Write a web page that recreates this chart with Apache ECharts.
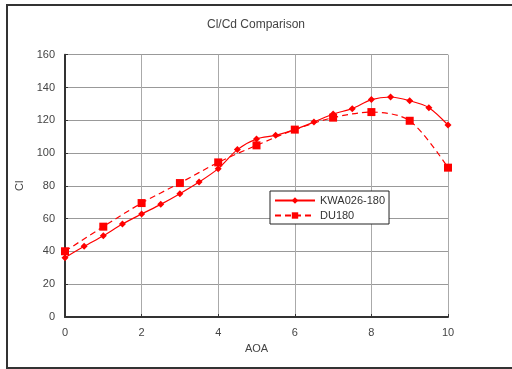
<!DOCTYPE html>
<html><head><meta charset="utf-8">
<script src="https://cdn.jsdelivr.net/npm/echarts@6/dist/echarts.min.js"></script>
<style>html,body{margin:0;padding:0;background:#fff}#c{width:512px;height:369px}</style>
</head><body><div id="c"></div>
<script>
const kwaX = [0,0.5,1,1.5,2,2.5,3,3.5,4,4.5,5,5.5,6,6.5,7,7.5,8,8.5,9,9.5,10];
const kwaY = [36.2,43.1,49.6,56.7,62.8,68.7,75.2,82.3,90.5,102.1,108.6,110.8,114.3,118.9,123.8,127.1,132.6,134.2,131.9,127.7,117.1];
const duX = [0,1,2,3,4,5,6,7,8,9,10];
const duY = [40.1,55.1,69.5,81.7,94.3,104.7,114.3,121.6,125.0,119.7,91.1];
const seriesNames = ['KWA026-180','DU180'];

const font = 'Liberation Sans, Arial, sans-serif';
const chart = echarts.init(document.getElementById('c'));
chart.setOption({
  animation:false,
  backgroundColor:'#fff',
  title:{text:'Cl/Cd Comparison',left:'center',top:14,textStyle:{fontSize:12,fontWeight:'normal',color:'#444',fontFamily:font}},
  graphic:[{type:'rect',shape:{x:7,y:5,width:520,height:363},style:{fill:'none',stroke:'#333',lineWidth:2},z:-1}],
  grid:{left:65,right:64,top:54.7,bottom:52},
  legend:{orient:'vertical',left:270,top:191,itemWidth:40,itemHeight:8,itemGap:4,padding:[4,4,3,4],
    backgroundColor:'#fff',borderColor:'#222',borderWidth:1,
    textStyle:{fontSize:11,color:'#333',fontFamily:font},data:seriesNames},
  xAxis:{type:'value',min:0,max:10,interval:2,name:'AOA',nameLocation:'middle',nameGap:26,
    nameTextStyle:{fontSize:11,color:'#444',fontFamily:font},
    axisLine:{onZero:false,lineStyle:{color:'#333',width:2}},
    axisTick:{show:true,inside:true,length:3,lineStyle:{color:'#333'}},
    axisLabel:{fontSize:11,color:'#444',margin:10,fontFamily:font},
    splitLine:{show:true,lineStyle:{color:'#aaa',width:1}}},
  yAxis:{type:'value',min:0,max:160,interval:20,name:'Cl',nameLocation:'middle',nameGap:30,
    nameTextStyle:{fontSize:11,color:'#444',fontFamily:font},
    axisLine:{show:true,lineStyle:{color:'#333',width:2}},
    axisTick:{show:true,inside:true,length:3,lineStyle:{color:'#333'}},
    axisLabel:{fontSize:11,color:'#444',margin:10,fontFamily:font},
    splitLine:{show:true,lineStyle:{color:'#999',width:1}}},
  series:[
    {name:seriesNames[0],type:'line',smooth:0.3,data:kwaX.map((x,i)=>[x,kwaY[i]]),
      symbol:'diamond',symbolSize:7,itemStyle:{color:'#ff0000'},lineStyle:{color:'#ff0000',width:1.2}},
    {name:seriesNames[1],type:'line',smooth:0.3,data:duX.map((x,i)=>[x,duY[i]]),
      symbol:'rect',symbolSize:8,itemStyle:{color:'#ff0000'},lineStyle:{color:'#ff0000',width:1.2,type:[6,4]}}
  ]
});
</script></body></html>
